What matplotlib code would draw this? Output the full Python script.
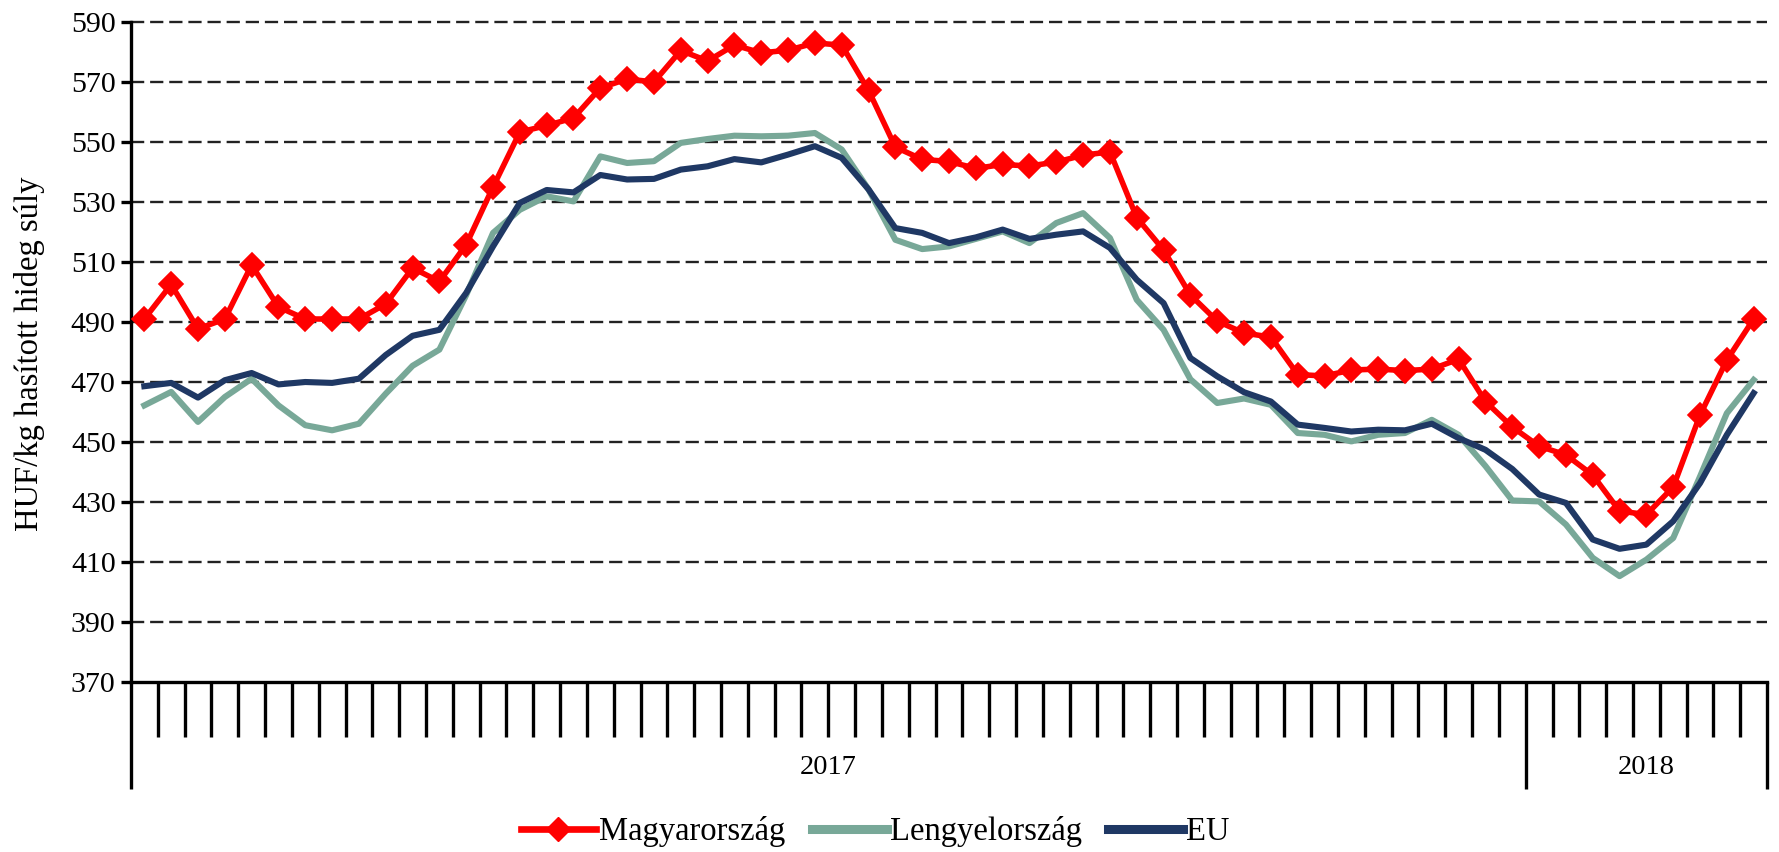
import matplotlib
matplotlib.use("Agg")
import matplotlib.pyplot as plt
import matplotlib.transforms as mtransforms
from matplotlib.lines import Line2D

plt.rcParams['font.family'] = ['Liberation Serif', 'DejaVu Serif']

# --- data (weekly prices, HUF/kg hasított hideg súly) ---
years = ["2017", "2018"]
weeks_per_year = [52, 9]

magyarorszag = [491, 502.5, 487.7, 491, 509, 495, 491, 491, 491, 496,
                508, 503.5, 515.8, 535, 553.3, 555.5, 558, 568, 571, 570,
                580.5, 577, 582.3, 579.7, 580.6, 583, 582.3, 567.2, 548.3, 544.2,
                543.5, 541.2, 542.5, 542, 543.3, 545.6, 546.7, 524.8, 514, 499,
                490.3, 486.3, 485, 472.5, 472, 474, 474.3, 473.8, 474.3, 477.6,
                463.5, 455, 448.6, 445.7, 439, 427, 425.8, 435, 459, 477.3, 491]

lengyelorszag = [462.2, 466.7, 456.7, 465, 471.1, 462.2, 455.6, 453.9, 456.1, 466.1,
                 475.4, 480.8, 499, 519.7, 527.4, 531.9, 530.2, 545.2, 543, 543.6,
                 549.7, 551, 552.1, 551.9, 552.1, 553, 547.5, 534.2, 517.4, 514.3,
                 515.2, 517.7, 520.2, 516.3, 523, 526.3, 518, 497.4, 487.4, 470.9,
                 463, 464.5, 462.4, 453, 452.4, 450.2, 452.4, 453, 457.4, 452.4,
                 442, 430.5, 430.2, 422.5, 411.4, 405.3, 410.8, 418, 438.5, 459.6, 470.7]

eu = [468.6, 469.7, 464.8, 470.6, 473, 469.2, 470, 469.7, 471.1, 479,
      485.4, 487.4, 499.7, 515.2, 529.7, 534, 533.2, 539, 537.5, 537.7,
      540.8, 541.9, 544.3, 543.2, 545.8, 548.6, 544.7, 534.2, 521.3, 519.7,
      516.3, 518.2, 520.8, 517.7, 519.1, 520.2, 514.7, 504.1, 496.3, 478,
      471.9, 466.6, 463.5, 455.8, 454.7, 453.5, 454.1, 453.9, 456.1, 451.3,
      447.4, 441, 432.5, 429.7, 417.5, 414.4, 415.8, 423.6, 436.3, 452.4, 466.3]

y_ticks = [370, 390, 410, 430, 450, 470, 490, 510, 530, 550, 570, 590]
series_names = ["Magyarország", "Lengyelország", "EU"]
y_label = "HUF/kg hasított hideg súly"

RED = "#FF0000"
TEAL = "#78A898"
NAVY = "#1F3864"

n = len(magyarorszag)
x = list(range(n))

fig = plt.figure(figsize=(17.79, 8.52), dpi=100)
ax = fig.add_axes([0.0736, 0.1995, 0.9197, 0.7747])

# grid lines (dashed)
for v in y_ticks[1:]:
    ax.axhline(v, color="#222222", lw=1.7, ls=(0, (5.6, 2.5)), zorder=1,
               clip_on=False)

ax.plot(x, lengyelorszag, color=TEAL, lw=4.4, zorder=3, solid_joinstyle='round')
ax.plot(x, eu, color=NAVY, lw=4.4, zorder=4, solid_joinstyle='round')
ax.plot(x, magyarorszag, color=RED, lw=4.0, marker='D', markersize=12,
        markeredgecolor=RED, markeredgewidth=1.2, zorder=5)

ax.set_xlim(-0.5, n - 0.5)
ax.set_ylim(370, 590)
ax.set_yticks(y_ticks)
ax.set_yticklabels([str(t) for t in y_ticks])

for s in ["top", "right"]:
    ax.spines[s].set_visible(False)
for s in ["left", "bottom"]:
    ax.spines[s].set_linewidth(2.4)
    ax.spines[s].set_color("black")

ax.tick_params(axis='y', direction='out', length=7, width=2.4, pad=4,
               labelsize=21.5, colors='black')

# x ticks: week boundaries (minor), year separators (major)
bounds_major = [-0.5]
acc = 0
for w in weeks_per_year:
    acc += w
    bounds_major.append(acc - 0.5)
ax.set_xticks(bounds_major)
ax.set_xticklabels([])
ax.set_xticks([i + 0.5 for i in range(n - 1)], minor=True)
ax.tick_params(axis='x', which='major', direction='out', length=77, width=2.4)
ax.tick_params(axis='x', which='minor', direction='out', length=39.5, width=2.4)

# year labels
trans = mtransforms.blended_transform_factory(ax.transData, fig.transFigure)
for i, yr in enumerate(years):
    cx = (bounds_major[i] + bounds_major[i + 1]) / 2
    ax.text(cx, 1 - 768 / 852, yr, transform=trans, ha='center', va='center',
            fontsize=20.5)

fig.text(30 / 1779, 0.585, y_label, rotation=90, ha='center', va='center',
         fontsize=23.5)

handles = [
    Line2D([0], [0], color=RED, lw=4.8, marker='D', markersize=12,
           markeredgecolor=RED),
    Line2D([0], [0], color=TEAL, lw=6.5),
    Line2D([0], [0], color=NAVY, lw=6.5),
]
fig.legend(handles, series_names, loc='center', bbox_to_anchor=(0.492, 0.024),
           ncol=3, frameon=False, fontsize=23.5, handlelength=2.3,
           handletextpad=0.1, columnspacing=0.8, borderpad=0)

fig.savefig("out.png", dpi=100)
